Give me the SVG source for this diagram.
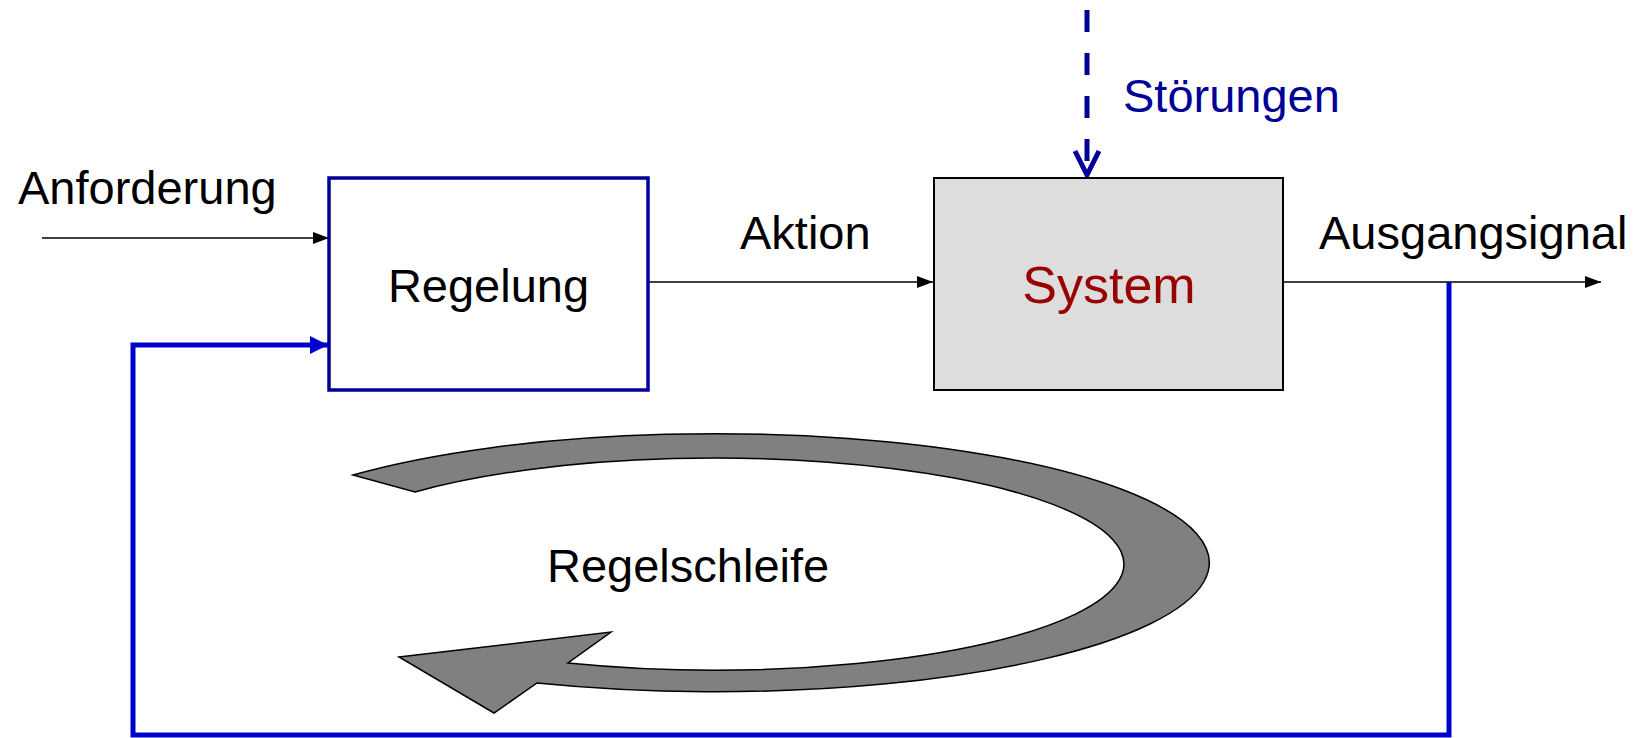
<svg xmlns="http://www.w3.org/2000/svg" width="1639" height="738" viewBox="0 0 1639 738">
<style>
text{font-family:"Liberation Sans",Arial,sans-serif;font-size:47px;fill:#000}
.thin{stroke:#000;stroke-width:1.6;fill:none}
.fb{stroke:#0000CC;stroke-width:5;fill:none}
</style>
<defs>
<marker id="ab" viewBox="0 0 16 12" refX="16" refY="6" markerWidth="16" markerHeight="12" markerUnits="userSpaceOnUse" orient="auto"><path d="M0,0 L16,6 L0,12 Z" fill="#000"/></marker>
<marker id="ablue" viewBox="0 0 18 18" refX="18" refY="9" markerWidth="18" markerHeight="18" markerUnits="userSpaceOnUse" orient="auto"><path d="M0,0 L18,9 L0,18 Z" fill="#0000CC"/></marker>
</defs>
<rect width="1639" height="738" fill="#fff"/>
<g id="loop">
<path d="M353,475 A494,129 0 1 1 537,683 L494,713 L399,657 L611,632 L568,663 A409,106 0 1 0 415,492 Z" fill="#808080" stroke="#000" stroke-width="1.5" stroke-linejoin="miter"/>
<text x="547" y="582">Regelschleife</text>
</g>
<g id="connectors">
<line class="thin" x1="42" y1="238" x2="329" y2="238" marker-end="url(#ab)"/>
<line class="thin" x1="648" y1="282" x2="933" y2="282" marker-end="url(#ab)"/>
<line class="thin" x1="1283" y1="282" x2="1601" y2="282" marker-end="url(#ab)"/>
<polyline class="fb" points="1449,282 1449,735 133,735 133,345 328,345" marker-end="url(#ablue)"/>
<line x1="1087" y1="10" x2="1087" y2="172" stroke="#000099" stroke-width="5" stroke-dasharray="22,21"/>
<polyline points="1075,151 1087,175 1099,151" fill="none" stroke="#000099" stroke-width="5" stroke-linejoin="miter"/>
</g>
<g id="regelung">
<rect x="329" y="178" width="319" height="212" fill="#fff" stroke="#000099" stroke-width="3.5"/>
<text x="488.5" y="302" text-anchor="middle">Regelung</text>
</g>
<g id="system">
<rect x="934" y="178" width="349" height="212" fill="#DDDDDD" stroke="#000" stroke-width="2"/>
<text x="1109" y="303" text-anchor="middle" style="font-size:52px;fill:#990000">System</text>
</g>
<g id="labels">
<text x="18" y="204">Anforderung</text>
<text x="740" y="249">Aktion</text>
<text x="1319" y="249">Ausgangsignal</text>
<text x="1123" y="112" style="fill:#000099">Störungen</text>
</g>
</svg>
